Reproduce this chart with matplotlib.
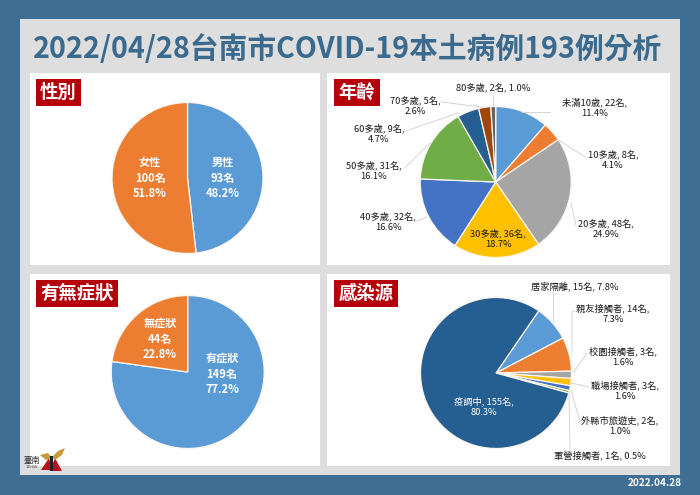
import matplotlib
matplotlib.use('Agg')
import matplotlib.pyplot as plt
from matplotlib.lines import Line2D
from matplotlib.patches import Polygon, Rectangle

W, H = 700, 495
plt.rcParams['font.family'] = ['Noto Sans CJK TC', 'DejaVu Sans']

BG = '#3f6f94'
GRAY = '#dedede'
RED = '#b5000b'
LEADER = '#d4d4d4'

#----------------------------------------------------------------
#              DATA
#----------------------------------------------------------------
title = '2022/04/28台南市COVID-19本土病例193例分析'
date_label = '2022.04.28'

gender_counts = [93, 100]
gender_labels = ['男性\n93名\n48.2%', '女性\n100名\n51.8%']
gender_colors = ['#5b9bd5', '#ed7d31']

age_counts = [22, 8, 48, 36, 32, 31, 9, 5, 2]
age_labels = ['未滿10歲, 22名,\n11.4%', '10多歲, 8名,\n4.1%', '20多歲, 48名,\n24.9%',
              '30多歲, 36名,\n18.7%', '40多歲, 32名,\n16.6%', '50多歲, 31名,\n16.1%',
              '60多歲, 9名,\n4.7%', '70多歲, 5名,\n2.6%', '80多歲, 2名, 1.0%']
age_colors = ['#5b9bd5', '#ed7d31', '#a5a5a5', '#ffc000', '#4472c4',
              '#70ad47', '#255e91', '#9e480e', '#636363']

symptom_counts = [149, 44]
symptom_labels = ['有症狀\n149名\n77.2%', '無症狀\n44名\n22.8%']
symptom_colors = ['#5b9bd5', '#ed7d31']

source_counts = [15, 14, 3, 3, 2, 1, 155]
source_labels = ['居家隔離, 15名, 7.8%', '親友接觸者, 14名,\n7.3%', '校園接觸者, 3名,\n1.6%',
                 '職場接觸者, 3名,\n1.6%', '外縣市旅遊史, 2名,\n1.0%', '軍營接觸者, 1名, 0.5%',
                 '疫調中, 155名,\n80.3%']
source_colors = ['#5b9bd5', '#ed7d31', '#a5a5a5', '#ffc000', '#4472c4', '#70ad47', '#255e91']

#----------------------------------------------------------------
#              LAYOUT (pixels, y from the top)
#----------------------------------------------------------------
age_label_pos = [(595, 108), (613, 160), (606, 229), (498, 239), (388, 222),
                 (374, 171), (379, 134), (415, 106), (493, 87)]
age_leaders = [[(550, 112), (522, 112)], [(585, 157), (557, 139)], [(576, 225), (571, 203)],
               [(417, 221), (427, 217)], [(405, 168), (430, 143)], [(406, 131), (458, 113)],
               [(441, 102), (482, 107)], [(493, 95), (493, 106)]]

source_label_pos = [(575, 286), (613, 314), (623, 357), (625, 391), (620, 426), (600, 455), (484, 407)]
source_leaders = [[(553, 292), (553, 322)], [(575, 311), (572, 312), (572, 353)],
                  [(587, 353), (573, 373)], [(589, 387), (571, 383)],
                  [(580, 422), (571, 390)], [(570, 450), (569, 393)]]


def add_rect(fig, x0, y0, x1, y1, color):
    fig.add_artist(Rectangle((x0 / W, 1 - y1 / H), (x1 - x0) / W, (y1 - y0) / H,
                             transform=fig.transFigure, facecolor=color, edgecolor='none'))


def add_text(fig, x, y, s, **kw):
    fig.text(x / W, 1 - y / H, s, ha='center', va='center', **kw)


def draw_pie(fig, cx, cy, r, counts, colors, startangle=90):
    ax = fig.add_axes([(cx - r) / W, 1 - (cy + r) / H, 2 * r / W, 2 * r / H], zorder=3)
    ax.pie(counts, colors=colors, startangle=startangle, counterclock=False, radius=1,
           wedgeprops={'edgecolor': '#fdf6ee', 'linewidth': 0.9})
    ax.set_xlim(-1.02, 1.02)
    ax.set_ylim(-1.02, 1.02)
    ax.axis('off')
    return ax


def draw_leaders(fig, leaders):
    for pts in leaders:
        xs = [p[0] / W for p in pts]
        ys = [1 - p[1] / H for p in pts]
        fig.add_artist(Line2D(xs, ys, color=LEADER, lw=0.7, transform=fig.transFigure, zorder=4))


#----------------------------------------------------------------
#              FIGURE
#----------------------------------------------------------------
fig = plt.figure(figsize=(W / 100, H / 100), dpi=100, facecolor=BG)

add_rect(fig, 20, 19, 680, 475, GRAY)
for x0, y0, x1, y1 in [(30, 73, 320, 265), (327, 73, 670, 265), (30, 274, 320, 466), (327, 274, 670, 466)]:
    add_rect(fig, x0, y0, x1, y1, 'white')

add_text(fig, 347.5, 49, title, color='#3b6a8f', fontsize=20.7, fontweight='bold')
add_text(fig, 655, 483, date_label, color='white', fontsize=7.2, fontweight='bold')

for x0, y0, x1, y1, s in [(35.5, 79, 81, 106, '性別'), (334, 79, 380, 106, '年齡'),
                          (35.5, 280, 118, 307, '有無症狀'), (334, 280, 398, 307, '感染源')]:
    add_rect(fig, x0, y0, x1, y1, RED)
    add_text(fig, (x0 + x1) / 2, (y0 + y1) / 2 - 0.5, s, color='white', fontsize=13.2, fontweight='bold')

draw_pie(fig, 187.5, 178, 77, gender_counts, gender_colors)
draw_pie(fig, 495.7, 182, 77, age_counts, age_colors)
draw_pie(fig, 187.7, 372, 78, symptom_counts, symptom_colors)
draw_pie(fig, 496, 373, 77, source_counts, source_colors, startangle=55.5)

draw_leaders(fig, age_leaders)
draw_leaders(fig, source_leaders)

white_label = dict(color='white', fontsize=8, fontweight='bold', linespacing=1.25, zorder=6)
for x, y, s in [(223, 178, gender_labels[0]), (150, 178, gender_labels[1]),
                (222, 374, symptom_labels[0]), (160, 339, symptom_labels[1])]:
    add_text(fig, x, y, s, **white_label)

dark_label = dict(color='#1a1a1a', fontsize=6.7, fontweight='medium', linespacing=1.25, zorder=6)
for (x, y), s in zip(age_label_pos, age_labels):
    add_text(fig, x, y, s, **dark_label)
for (x, y), s in zip(source_label_pos[:-1], source_labels[:-1]):
    add_text(fig, x, y, s, **dark_label)
x, y = source_label_pos[-1]
add_text(fig, x, y, source_labels[-1], color='white', fontsize=6.7, fontweight='medium', linespacing=1.25, zorder=6)

# small city logo in the lower left corner
add_text(fig, 32, 460, '臺南', color='#333333', fontsize=6, fontstyle='italic')
add_text(fig, 32, 467.5, 'TAINAN', color='#555555', fontsize=2.5)
for pts, c in [([(41, 470), (49, 458), (52, 470)], '#b5121b'),
               ([(55, 458), (62, 471), (50, 471)], '#b5121b'),
               ([(40, 455), (48, 453), (52, 458), (46, 460)], '#c79a3a'),
               ([(52, 457), (58, 451), (65, 448), (62, 455), (55, 460)], '#c79a3a'),
               ([(50, 456), (53, 456), (53, 471), (50, 471)], '#222222')]:
    fig.add_artist(Polygon([(px / W, 1 - py / H) for px, py in pts], closed=True,
                           transform=fig.transFigure, facecolor=c, edgecolor='none', zorder=5))

fig.savefig('out.png', dpi=100, facecolor=fig.get_facecolor())
